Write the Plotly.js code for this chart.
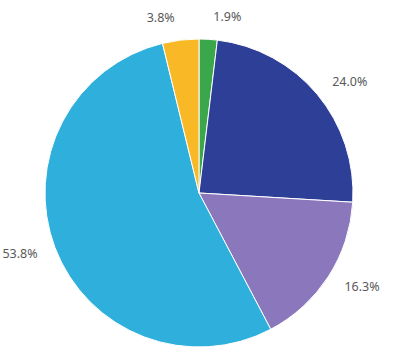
<!DOCTYPE html>
<html>
<head>
<meta charset="utf-8">
<script src="https://cdn.plot.ly/plotly-3.0.1.min.js"></script>
<style>html,body{margin:0;padding:0;background:#fff;}#chart{width:401px;height:362px;}</style>
</head>
<body>
<div id="chart"></div>
<script>
const categories = ["Green", "Dark blue", "Purple", "Light blue", "Yellow"];
const shares = [1.9, 24.0, 16.3, 53.8, 3.8];
const colors = ["#3aa84a", "#2e3f98", "#8a77bc", "#2fb0dc", "#f9b927"];

const labelFont = {family: "Noto Sans, sans-serif", size: 12.5, color: "#595959"};

const pie = {
  type: "pie",
  labels: categories,
  values: shares,
  sort: false,
  direction: "clockwise",
  rotation: 0,
  marker: {colors: colors, line: {color: "#ffffff", width: 1}},
  textinfo: "none",
  hoverinfo: "none",
  automargin: false,
  domain: {x: [0.1122, 0.8803], y: [0.0414, 0.8923]}
};

// transparent, slightly larger copy of the pie that only carries the outside labels
const labelRing = {
  type: "pie",
  labels: categories,
  values: shares,
  sort: false,
  direction: "clockwise",
  rotation: 0,
  marker: {colors: categories.map(() => "rgba(0,0,0,0)"), line: {width: 0}},
  textposition: "outside",
  texttemplate: "%{value:.1f}%",
  outsidetextfont: labelFont,
  hoverinfo: "none",
  automargin: false,
  domain: {x: [0.0773, 0.9152], y: [0.0028, 0.9309]}
};

Plotly.newPlot("chart", [pie, labelRing], {
  width: 401, height: 362,
  margin: {l: 0, r: 0, t: 0, b: 0},
  showlegend: false,
  paper_bgcolor: "#ffffff"
}, {displayModeBar: false, staticPlot: true});
</script>
</body>
</html>
